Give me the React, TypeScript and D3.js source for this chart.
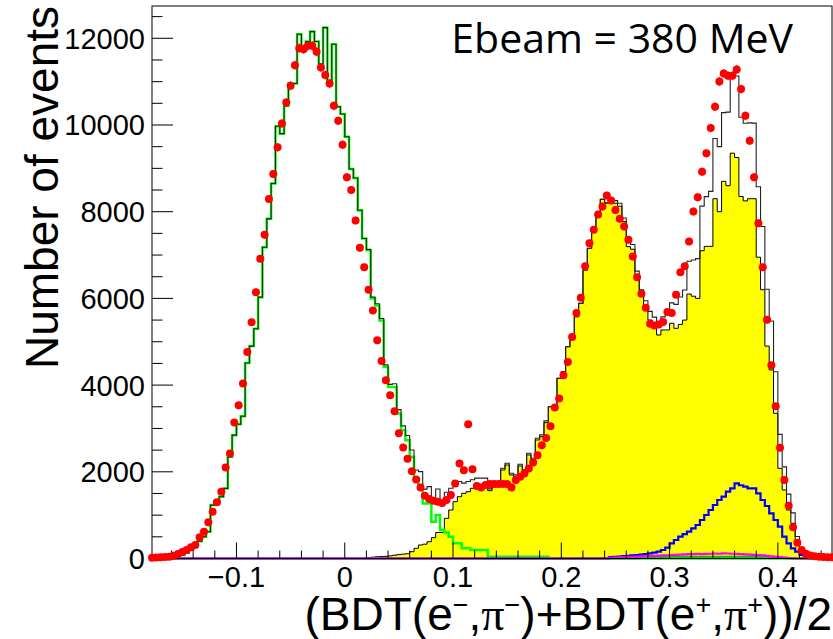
import React from "react";
import * as d3 from "d3";

// ---- binning (0.004 wide bins, first low edge at -0.18) ----
const FIRST_EDGE = -0.18;
const BIN_WIDTH = 0.004;
const N_BINS = 158;

// ---- data points (red), one per bin ----
const DATA_COUNTS = [
  20, 25, 30, 35, 40, 65, 104, 150, 196, 258,
  311, 488, 617, 834, 1078, 1295, 1539, 2100, 2423, 3137,
  3535, 4035, 4763, 5450, 6144, 6913, 7466, 8295, 8871, 9484,
  10037, 10520, 10905, 11381, 11773, 11750, 11826, 11826, 11688, 11326,
  11151, 10958, 10443, 10098, 9546, 8793, 8502, 7796, 7167, 6720,
  6200, 5723, 5032, 4556, 4111, 3766, 3397, 2890, 2561, 2300,
  2015, 1824, 1640, 1450, 1370, 1335, 1308, 1280, 1347, 1462,
  1732, 2192, 2038, 3098, 2061, 1670, 1640, 1693, 1716, 1716,
  1716, 1716, 1716, 1640, 1808, 1885, 1962, 2077, 2215, 2384,
  2614, 2782, 3052, 3482, 3690, 4226, 4532, 5108, 5661, 6015,
  6743, 7273, 7581, 7934, 8118, 8371, 8256, 8042, 7835, 7658,
  7351, 6966, 6490, 6107, 5785, 5416, 5377, 5400, 5453, 5684,
  5661, 6084, 6605, 6743, 7312, 8003, 8332, 8924, 9346, 9930,
  10421, 11004, 11188, 11135, 11135, 11280, 10829, 10214, 9638, 8793,
  7734, 6720, 5509, 4456, 3512, 2552, 1808, 1216, 719, 364,
  196, 110, 70, 50, 40, 35, 30, 30,
];

// ---- green histogram (left peak) ----
const GREEN_FROM = -0.18;
const GREEN_COUNTS = [
  0, 0, 0, 0, 5, 15, 30, 80, 130, 200,
  290, 400, 502, 617, 1232, 1331, 1423, 1617, 2345, 2845,
  3098, 3282, 4510, 4900, 5300, 6029, 7181, 7835, 8650, 9970,
  9800, 10444, 10958, 10958, 12095, 11710, 11925, 12155, 11925, 11404,
  12247, 11020, 11864, 10421, 10253, 9730, 8986, 8779, 8034, 7380,
  7110, 6000, 5838, 5493, 4417, 3957, 3957, 3344, 2960, 2729,
  2345, 1808, 1693, 1271, 1271, 848, 1002, 656, 600, 502,
  350, 350, 235, 235, 196, 196, 196, 196, 41, 41,
  41, 41, 41, 41, 41, 41, 41, 41, 41, 41,
  41, 41,
];

// ---- yellow filled histogram ----
const YELLOW_FROM = 0.02;
const YELLOW_COUNTS = [
  20, 30, 40, 45, 50, 60, 75, 90, 100, 110,
  157, 235, 311, 330, 387, 480, 600, 600, 927, 1119,
  1311, 1426, 1503, 1541, 1619, 1657, 1657, 1657, 1565, 1657,
  1657, 2042, 2157, 1926, 1888, 2134, 2003, 2388, 2272, 2734,
  2810, 3133, 3502, 3502, 4157, 4310, 4886, 5080, 5578, 5886,
  6656, 7156, 7578, 7963, 8287, 8195, 8195, 8195, 8126, 7770,
  7193, 7133, 6500, 6050, 5772, 5500, 5348, 5156, 5272, 5272,
  5426, 5310, 5400, 5500, 6100, 6050, 6000, 7100, 7200, 7200,
  8300, 8000, 8700, 8600, 9350, 9250, 8350, 8250, 8300, 8300,
  6950, 6200, 4900, 4350, 3350, 2080, 1580, 1119, 811, 350,
  120, 40, 10,
];

// ---- blue histogram ----
const BLUE_FROM = 0.244;
const BLUE_COUNTS = [
  30, 40, 45, 55,
  60, 70, 80, 90, 104, 120, 134, 157, 196, 250,
  350, 427, 503, 560, 618, 696, 773, 888, 1003, 1119,
  1234, 1350, 1426, 1541, 1619, 1734, 1690, 1657, 1619, 1619,
  1504, 1350, 1211, 1042, 888, 734, 503, 350, 235, 157,
  81, 20,
];

// ---- magenta histogram ----
const MAGENTA_FROM = 0.24;
const MAGENTA_COUNTS = [
  10, 15, 20, 25, 30,
  35, 40, 45, 50, 55, 60, 62, 65, 70, 75,
  80, 85, 90, 95, 100, 100, 105, 100, 105, 110,
  115, 110, 120, 115, 110, 105, 100, 95, 90, 85,
  80, 70, 60, 50, 40, 30, 20, 12, 6,
];

// ---- small dark-green histogram ----
const DKGREEN_FROM = 0.268;
const DKGREEN_COUNTS = [
  5, 10, 15, 20, 25, 30, 35, 38,
  40, 40, 40, 40, 40, 40, 40, 40, 40, 40,
  40, 40, 40, 40, 40, 40, 40, 40, 40, 40,
  40, 40, 40, 38, 30, 20, 10, 5,
];

const X_TICK_VALUES = [-0.1, 0, 0.1, 0.2, 0.3, 0.4];
const X_TICK_LABELS = ["\u22120.1", "0", "0.1", "0.2", "0.3", "0.4"];
const Y_TICK_VALUES = [0, 2000, 4000, 6000, 8000, 10000, 12000];
const Y_TICK_LABELS = ["0", "2000", "4000", "6000", "8000", "10000", "12000"];

const X_DOMAIN: [number, number] = [-0.178, 0.45];
const Y_DOMAIN: [number, number] = [0, 12745];

function placeSeries(from: number, vals: number[]): number[] {
  const start = Math.round((from - FIRST_EDGE) / BIN_WIDTH);
  const out: number[] = [];
  for (let i = 0; i < N_BINS; i++) {
    const k = i - start;
    out.push(k >= 0 && k < vals.length ? vals[k] : 0);
  }
  return out;
}

const FONT = "'Liberation Sans', Arial, Helvetica, sans-serif";
const SERIF = "'Liberation Serif', 'DejaVu Serif', serif";

export default function App() {
  const W = 833;
  const H = 639;
  const left = 152, right = 832, top = 6, bottom = 558.5;

  const x = d3.scaleLinear().domain(X_DOMAIN).range([left, right]);
  const y = d3.scaleLinear().domain(Y_DOMAIN).range([bottom, top]);

  const green = placeSeries(GREEN_FROM, GREEN_COUNTS);
  const yellow = placeSeries(YELLOW_FROM, YELLOW_COUNTS);
  const blue = placeSeries(BLUE_FROM, BLUE_COUNTS);
  const magenta = placeSeries(MAGENTA_FROM, MAGENTA_COUNTS);
  const dkgreen = placeSeries(DKGREEN_FROM, DKGREEN_COUNTS);
  const total = green.map((g, i) => g + yellow[i] + blue[i] + magenta[i] + dkgreen[i]);

  const edge = (i: number) => x(FIRST_EDGE + i * BIN_WIDTH);

  const stepPath = (vals: number[]) => {
    const parts: string[] = [];
    vals.forEach((v, i) => {
      parts.push(`${i === 0 ? "M" : "L"}${edge(i)},${y(v)}`);
      parts.push(`L${edge(i + 1)},${y(v)}`);
    });
    return parts.join("");
  };
  const fillPath = (vals: number[]) =>
    `M${edge(0)},${y(0)}` + stepPath(vals).replace(/^M/, "L") + `L${edge(vals.length)},${y(0)}Z`;

  const yMinor = d3.range(0, 12745, 500);
  const xMinor = d3.range(-0.16, 0.4501, 0.02);

  return (
    <svg
      width={W}
      height={H}
      viewBox={`0 0 ${W} ${H}`}
      style={{ position: "absolute", left: 0, top: 0, background: "#fff" }}
      fontFamily={FONT}
    >
      <defs>
        <clipPath id="plotClip">
          <rect x={left} y={top} width={right - left} height={bottom - top + 2} />
        </clipPath>
      </defs>
      <rect x={0} y={0} width={W} height={H} fill="#fff" />

      <g clipPath="url(#plotClip)">
        <path d={fillPath(yellow)} fill="#ffff00" stroke="none" />
        <path d={stepPath(yellow)} fill="none" stroke="#000" strokeWidth={1} />
        <path d={stepPath(green)} fill="none" stroke="#00ff00" strokeWidth={2.5} />
        <path d={stepPath(total)} fill="none" stroke="#222" strokeWidth={1.1} />
        <path d={stepPath(blue)} fill="none" stroke="#0000ff" strokeWidth={2.2} />
        <path d={stepPath(dkgreen)} fill="none" stroke="#22aa22" strokeWidth={2} />
        <path d={stepPath(magenta)} fill="none" stroke="#ff00ff" strokeWidth={2.2} />
      </g>

      {/* frame */}
      <rect x={left} y={top} width={right - left} height={bottom - top} fill="none" stroke="#000" strokeWidth={1} />

      {/* y ticks */}
      {yMinor.map((v) => (
        <line key={`ym${v}`} x1={left} x2={left + (v % 2000 === 0 ? 21 : 10.5)} y1={y(v)} y2={y(v)} stroke="#000" strokeWidth={1} />
      ))}
      {Y_TICK_VALUES.map((v, i) => (
        <text key={`yl${v}`} x={145} y={y(v)} dy="0.36em" textAnchor="end" fontSize={29} fill="#000">
          {Y_TICK_LABELS[i]}
        </text>
      ))}

      {/* x ticks */}
      {xMinor.map((v) => {
        const isMajor = Math.abs(v * 10 - Math.round(v * 10)) < 1e-6;
        return (
          <line key={`xm${v.toFixed(3)}`} x1={x(v)} x2={x(v)} y1={bottom} y2={bottom - (isMajor ? 16 : 8)} stroke="#000" strokeWidth={1} />
        );
      })}
      {X_TICK_VALUES.map((v, i) => (
        <text key={`xl${v}`} x={x(v)} y={587} textAnchor="middle" fontSize={29} fill="#000">
          {X_TICK_LABELS[i]}
        </text>
      ))}

      {/* data points */}
      <g>
        {DATA_COUNTS.map((c, i) => {
          const cx = x(FIRST_EDGE + (i + 0.5) * BIN_WIDTH);
          const cy = y(c);
          const err = Math.sqrt(c);
          return (
            <g key={`p${i}`}>
              <line x1={edge(i)} x2={edge(i + 1)} y1={cy} y2={cy} stroke="#ff0000" strokeWidth={1} />
              <line x1={cx} x2={cx} y1={y(c - err)} y2={y(c + err)} stroke="#ff0000" strokeWidth={1} />
              <circle cx={cx} cy={cy} r={4} fill="#ff0000" />
            </g>
          );
        })}
      </g>

      {/* titles */}
      <text transform="translate(58,6) rotate(-90)" textAnchor="end" fontSize={46} fill="#000">
        Number of events
      </text>
      <text x={832} y={630} textAnchor="end" fontSize={46} fill="#000">
        (BDT(e
        <tspan dy={-16} fontSize={27}>{"\u2212"}</tspan>
        <tspan dy={16}>,</tspan>
        <tspan fontFamily={SERIF}>{"\u03c0"}</tspan>
        <tspan dy={-16} fontSize={27}>{"\u2212"}</tspan>
        <tspan dy={16}>)+BDT(e</tspan>
        <tspan dy={-16} fontSize={27}>+</tspan>
        <tspan dy={16}>,</tspan>
        <tspan fontFamily={SERIF}>{"\u03c0"}</tspan>
        <tspan dy={-16} fontSize={27}>+</tspan>
        <tspan dy={16}>))/2</tspan>
      </text>
      <text x={793} y={53} textAnchor="end" fontSize={41} fontFamily="'Open Sans', Lato, sans-serif" fill="#000">
        Ebeam = 380 MeV
      </text>
    </svg>
  );
}
